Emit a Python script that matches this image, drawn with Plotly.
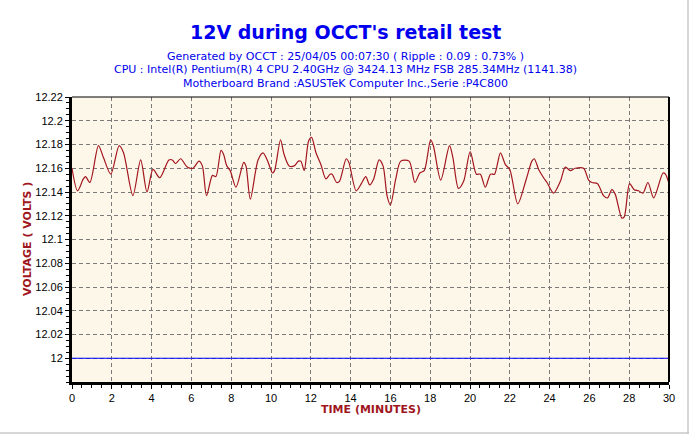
import plotly.graph_objects as go

# ---- data ----
time_min = [0, 0.28, 0.57, 0.68, 0.9, 1.33, 1.58, 1.95, 2.37, 2.59, 3.06, 3.45, 3.77, 4.07, 4.41,
            4.87, 5.04, 5.2, 5.46, 5.79, 6.08, 6.38, 6.55, 6.76, 7.06, 7.23, 7.49, 7.61, 7.78, 7.95,
            8.24, 8.63, 8.74, 8.96, 9.35, 9.6, 9.81, 10.08, 10.18, 10.48, 10.65, 10.91, 11.16, 11.38,
            11.5, 11.67, 11.89, 12.04, 12.26, 12.51, 12.76, 12.97, 13.07, 13.3, 13.44, 13.78, 13.91,
            14.28, 14.54, 14.76, 14.96, 15.16, 15.43, 15.63, 15.83, 16.0, 16.27, 16.52, 16.94, 17.23,
            17.48, 17.7, 18.02, 18.16, 18.53, 18.97, 19.14, 19.42, 19.68, 20.01, 20.32, 20.52, 20.77,
            21.03, 21.23, 21.53, 21.78, 22.0, 22.4, 22.83, 23.11, 23.23, 23.45, 23.7, 23.87, 24.2,
            24.54, 24.79, 25.04, 25.29, 25.71, 25.96, 26.13, 26.41, 26.71, 26.91, 27.13, 27.3, 27.63,
            27.75, 28.02, 28.25, 28.47, 28.69, 28.94, 29.23, 29.7, 29.82, 30.0]
voltage = [12.160, 12.141, 12.151, 12.153, 12.148, 12.179, 12.169, 12.155, 12.179, 12.173, 12.137,
           12.167, 12.140, 12.159, 12.152, 12.167, 12.167, 12.164, 12.168, 12.161, 12.160, 12.166,
           12.162, 12.137, 12.154, 12.153, 12.175, 12.172, 12.162, 12.158, 12.144, 12.165, 12.162,
           12.134, 12.167, 12.173, 12.167, 12.156, 12.158, 12.184, 12.172, 12.162, 12.162, 12.166,
           12.166, 12.158, 12.183, 12.186, 12.173, 12.163, 12.151, 12.155, 12.155, 12.148, 12.149,
           12.168, 12.165, 12.141, 12.147, 12.153, 12.146, 12.151, 12.167, 12.162, 12.137, 12.129,
           12.151, 12.166, 12.166, 12.148, 12.156, 12.158, 12.184, 12.179, 12.150, 12.179, 12.169,
           12.143, 12.149, 12.174, 12.155, 12.155, 12.144, 12.155, 12.155, 12.173, 12.163, 12.159,
           12.130, 12.151, 12.166, 12.168, 12.159, 12.152, 12.148, 12.139, 12.149, 12.161, 12.158,
           12.160, 12.160, 12.150, 12.148, 12.147, 12.137, 12.135, 12.142, 12.138, 12.118, 12.119,
           12.147, 12.142, 12.141, 12.139, 12.148, 12.135, 12.156, 12.155, 12.147]
ref_time = [0, 30]
ref_voltage = [12, 12]

x_ticks = [0, 2, 4, 6, 8, 10, 12, 14, 16, 18, 20, 22, 24, 26, 28, 30]
y_ticks = [12, 12.02, 12.04, 12.06, 12.08, 12.1, 12.12, 12.14, 12.16, 12.18, 12.2, 12.22]
y_tick_text = ["12", "12.02", "12.04", "12.06", "12.08", "12.1", "12.12", "12.14", "12.16",
               "12.18", "12.2", "12.22"]

title_text = "12V during OCCT's retail test"
subtitle_lines = [
    "Generated by OCCT : 25/04/05 00:07:30 ( Ripple : 0.09 : 0.73% )",
    "CPU : Intel(R) Pentium(R) 4 CPU 2.40GHz @ 3424.13 MHz FSB 285.34MHz (1141.38)",
    "Motherboard Brand :ASUSTeK Computer Inc.,Serie :P4C800",
]
x_title = "TIME (MINUTES)"
y_title = "VOLTAGE ( VOLTS )"

# ---- figure ----
W, H = 690, 435
L, R, T, B = 72, 21, 97, 53
pw, ph = W - L - R, H - T - B

def px_x(p):
    return (p - L) / pw

def px_y(p):
    return (H - B - p) / ph

fig = go.Figure()
fig.add_trace(go.Scatter(x=ref_time, y=ref_voltage, mode="lines",
                         line=dict(color="#0000FF", width=1), hoverinfo="skip"))
fig.add_trace(go.Scatter(x=time_min, y=voltage, mode="lines",
                         line=dict(color="#A3161F", width=1.2, shape="spline", smoothing=0.8)))

tick_font = dict(family="Liberation Sans, Arial, sans-serif", size=11, color="black")
grid = dict(showgrid=True, gridcolor="#7A7A7A", griddash="4px,3px", gridwidth=1)

fig.update_xaxes(range=[0, 30], tickmode="array", tickvals=x_ticks,
                 ticks="outside", ticklen=4, tickwidth=1, tickcolor="black",
                 showline=True, linecolor="black", linewidth=3, zeroline=False,
                 tickfont=tick_font,
                 minor=dict(tickmode="linear", tick0=0, dtick=0.5, ticks="outside",
                            ticklen=3, tickcolor="black", showgrid=False),
                 **grid)
fig.update_yaxes(range=[11.98, 12.22], tickmode="array", tickvals=y_ticks, ticktext=y_tick_text,
                 ticks="outside", ticklen=4, tickwidth=1, tickcolor="black",
                 showline=True, linecolor="black", linewidth=3, zeroline=False,
                 tickfont=tick_font,
                 minor=dict(tickmode="linear", tick0=11.98, dtick=0.005, ticks="outside",
                            ticklen=3, tickcolor="black", showgrid=False),
                 **grid)

annotations = [
    dict(text="<b>" + title_text + "</b>", x=px_x(345), xref="paper", y=px_y(32), yref="paper",
         xanchor="center", yanchor="middle", showarrow=False,
         font=dict(family="DejaVu Sans, Verdana, sans-serif", size=19, color="#0000EE")),
]
for line, ypix in zip(subtitle_lines, [56, 70, 83]):
    annotations.append(dict(text=line, x=px_x(345), xref="paper", y=px_y(ypix), yref="paper",
                            xanchor="center", yanchor="middle", showarrow=False,
                            font=dict(family="DejaVu Sans, sans-serif", size=11,
                                      color="#0000EE")))
annotations.append(dict(text="<b>" + x_title + "</b>", x=0.5, xref="paper", y=px_y(409), yref="paper",
                        xanchor="center", yanchor="middle", showarrow=False,
                        font=dict(family="DejaVu Sans, sans-serif", size=11, color="#A0161E")))
annotations.append(dict(text="<b>" + y_title + "</b>", x=px_x(27), xref="paper", y=px_y(239),
                        yref="paper", xanchor="center", yanchor="middle", showarrow=False,
                        textangle=-90,
                        font=dict(family="DejaVu Sans, sans-serif", size=11, color="#A0161E")))

shapes = [
    dict(type="line", xref="paper", yref="paper", x0=0, x1=1, y0=1, y1=1,
         line=dict(color="black", width=1)),
    dict(type="line", xref="paper", yref="paper", x0=1, x1=1, y0=0, y1=1,
         line=dict(color="black", width=2)),
    dict(type="line", xref="paper", yref="paper", x0=px_x(688), x1=px_x(688), y0=px_y(0),
         y1=px_y(434), line=dict(color="#C8C8C8", width=1.5)),
    dict(type="line", xref="paper", yref="paper", x0=px_x(0), x1=px_x(689), y0=px_y(433),
         y1=px_y(433), line=dict(color="#C8C8C8", width=1.5)),
]

fig.update_layout(width=W, height=H, margin=dict(l=L, r=R, t=T, b=B, autoexpand=False),
                  paper_bgcolor="white", plot_bgcolor="#FDF7E9", showlegend=False,
                  annotations=annotations, shapes=shapes)

fig.write_html("out.html", config={"displayModeBar": False},
               post_script="document.body.style.margin='0';")
